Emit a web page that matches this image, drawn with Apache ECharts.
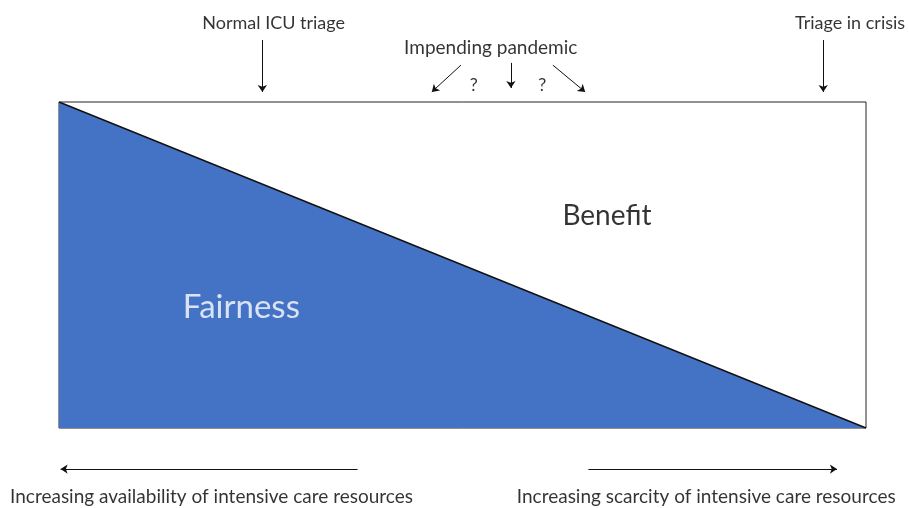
<!DOCTYPE html>
<html>
<head>
<meta charset="utf-8">
<script src="https://cdn.jsdelivr.net/npm/echarts@6/dist/echarts.min.js"></script>
<style>html,body{margin:0;padding:0;background:#fff}#c{width:909px;height:508px}</style>
</head>
<body>
<div id="c"></div>
<script>
// Conceptual axis: 0 = most availability, 100 = most scarcity; vertical share 0..100
const fairnessBoundary = [[0, 100], [100, 0]];

const topLabels = ['Normal ICU triage', 'Impending pandemic', 'Triage in crisis'];
const topLabelPos = [[26.6, 124.2], [53.5, 116.6], [91.2, 124.2]];
const topArrows = [
  [[25.2, 119.0], [25.2, 103.1]],
  [[49.8, 111.3], [46.2, 103.1]],
  [[56.0, 112.0], [56.0, 104.3]],
  [[61.2, 111.3], [65.2, 103.1]],
  [[94.7, 119.0], [94.7, 103.1]]
];
const questionMarks = ['?', '?'];
const questionPos = [[51.4, 105.3], [59.9, 105.3]];

const regionLabels = ['Benefit', 'Fairness'];
const regionPos = [[67.9, 65.0], [22.6, 37.1]];

const bottomLabels = ['Increasing availability of intensive care resources', 'Increasing scarcity of intensive care resources'];
const bottomLabelPos = [[18.9, -21.2], [80.2, -21.2]];
const bottomArrows = [
  [[37.0, -12.6], [0.2, -12.6]],
  [[65.6, -12.6], [96.4, -12.6]]
];

const FONT = 'Lato';
const chart = echarts.init(document.getElementById('c'), null, {renderer: 'canvas'});

function textPoints(labels, pos) {
  return labels.map((t, i) => ({value: pos[i], name: t}));
}
function textSeries(data, size, color, align) {
  return {
    type: 'scatter', clip: false, symbolSize: 0, z: 6, data: data,
    label: {show: true, position: 'inside', align: align || 'center', formatter: p => p.name,
      color: color, fontFamily: FONT, fontSize: size, textBorderWidth: 0}
  };
}

chart.setOption({
  backgroundColor: '#fff',
  animation: false,
  grid: {left: 59, right: 43, top: 102, bottom: 80, show: true, borderColor: '#222', borderWidth: 1, backgroundColor: 'transparent'},
  xAxis: {type: 'value', min: 0, max: 100, show: false},
  yAxis: {type: 'value', min: 0, max: 100, show: false},
  series: [
    {
      type: 'line', data: fairnessBoundary, showSymbol: false, z: 2,
      lineStyle: {color: '#111', width: 1.5},
      areaStyle: {color: '#4472C4', opacity: 1, origin: 'start'}
    },
    {
      type: 'lines', coordinateSystem: 'cartesian2d', clip: false, z: 5,
      symbol: ['none', 'arrow'], symbolSize: 7,
      lineStyle: {color: '#111', width: 1, opacity: 1},
      data: topArrows.concat(bottomArrows).map(c => ({coords: c}))
    },
    textSeries(textPoints([topLabels[0]], [topLabelPos[0]]), 18, '#000'),
    textSeries(textPoints([topLabels[1]], [topLabelPos[1]]), 19, '#000'),
    textSeries(textPoints([topLabels[2]], [topLabelPos[2]]), 18, '#000', 'left'),
    textSeries(textPoints(questionMarks, questionPos), 18, '#000'),
    textSeries(textPoints(bottomLabels, bottomLabelPos), 19, '#000'),
    textSeries([{value: regionPos[0], name: regionLabels[0]}], 28, '#000'),
    textSeries([{value: regionPos[1], name: regionLabels[1]}], 33, '#fff')
  ]
});
</script>
</body>
</html>
